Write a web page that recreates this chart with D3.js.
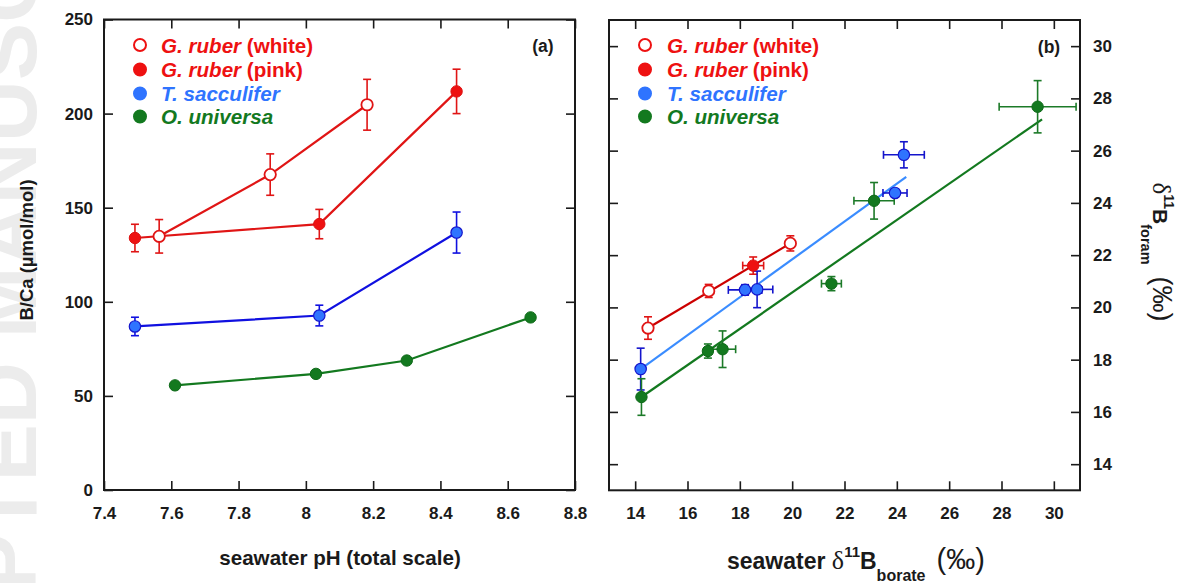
<!DOCTYPE html>
<html>
<head>
<meta charset="utf-8">
<script src="https://cdn.jsdelivr.net/npm/d3@7"></script>
<style>
body { margin: 0; background: white; }
svg { display: block; font-family: "Liberation Sans", Arial, sans-serif; }
</style>
</head>
<body>
<script>
// panel (a) : B/Ca vs pH
const phTicks = [7.4, 7.6, 7.8, 8, 8.2, 8.4, 8.6, 8.8];
const bcaTicks = [0, 50, 100, 150, 200, 250];

const phWhite = [7.564, 7.894, 8.182];
const bcaWhite = [134.8, 167.6, 204.7];
const bcaErrWhite = [8.9, 11, 13.5];

const phPink = [7.492, 8.04, 8.448];
const bcaPink = [133.9, 141.3, 211.8];
const bcaErrPink = [7.3, 7.8, 11.8];

const phSacc = [7.492, 8.04, 8.448];
const bcaSacc = [86.9, 92.7, 136.8];
const bcaErrSacc = [4.9, 5.5, 10.9];

const phUniv = [7.611, 8.03, 8.30, 8.668];
const bcaUniv = [55.6, 61.7, 68.8, 91.7];

// panel (b) : d11B foram vs d11B borate
const dTicks = [14, 16, 18, 20, 22, 24, 26, 28, 30];

const swWhite = [14.49, 16.81, 19.93];
const foWhite = [19.21, 20.63, 22.45];
const foErrWhite = [0.43, 0.25, 0.29];

const swPink = [18.51];
const foPink = [21.6];
const swErrPink = [0.4];
const foErrPink = [0.33];

const swSacc = [14.21, 18.2, 18.66, 23.93, 24.27];
const foSacc = [17.64, 20.67, 20.69, 24.38, 25.84];
const swErrSacc = [0.1, 0.64, 0.6, 0.46, 0.78];
const foErrSacc = [0.8, 0.2, 0.7, 0.15, 0.5];

const swUniv = [14.24, 16.78, 17.34, 21.5, 23.13, 29.38];
const foUniv = [16.57, 18.33, 18.4, 20.91, 24.08, 27.68];
const swErrUniv = [0.1, 0.15, 0.5, 0.38, 0.77, 1.47];
const foErrUniv = [0.7, 0.27, 0.7, 0.27, 0.7, 1.0];

// regression lines [x0, y0, x1, y1]
const fitRuber = [14.49, 19.21, 19.93, 22.45];
const fitSacc = [14.21, 17.64, 24.36, 25.0];
const fitUniv = [14.24, 16.57, 29.55, 27.2];

const legendNames = [["G. ruber", " (white)"], ["G. ruber", " (pink)"], ["T. sacculifer", ""], ["O. universa", ""]];

const rouge = "#ee1111";
const rougeFonce = "#cc0000";
const bleu = "#2f74ff";
const bleuFonce = "#1414cc";
const bleuClair = "#3a8cff";
const vert = "#13791f";
const encre = "#1a1a1a";

const largeur = 1184;
const hauteur = 583;

const svg = d3.select("body")
.append("svg")
.attr("width", largeur)
.attr("height", hauteur);

// faded watermark on the left edge
svg.append("text")
.attr("transform", "translate(36,300) rotate(-90)")
.attr("text-anchor", "middle")
.attr("font-size", 86)
.attr("font-weight", "bold")
.attr("fill", "#ececec")
.text("ACCEPTED MANUSCRIPT");

const xA = d3.scaleLinear().domain([7.4, 8.8]).range([104, 575]);
const yA = d3.scaleLinear().domain([0, 250]).range([490, 19.5]);
const xB = d3.scaleLinear().domain([13, 31]).range([609, 1080]);
const yB = d3.scaleLinear().domain([13, 31]).range([490.3, 20]);

function cadre(x, y, xTicks, yTicks, yCote)
{
    const bas = y.range()[0];
    const haut = y.range()[1];
    const gauche = x.range()[0];
    const droite = x.range()[1];

    const g = svg.append("g");

    g.append("g")
    .attr("transform", "translate(0," + bas + ")")
    .call(d3.axisBottom(x).tickValues(xTicks).tickSizeInner(-9).tickSizeOuter(0).tickPadding(17).tickFormat(d3.format("~g")));

    g.append("g")
    .attr("transform", "translate(0," + haut + ")")
    .call(d3.axisTop(x).tickValues(xTicks).tickSizeInner(-9).tickSizeOuter(0).tickFormat(""));

    if(yCote == "left")
    {
        g.append("g")
        .attr("transform", "translate(" + gauche + ",0)")
        .call(d3.axisLeft(y).tickValues(yTicks).tickSizeInner(-9).tickSizeOuter(0).tickPadding(11));
        g.append("g")
        .attr("transform", "translate(" + droite + ",0)")
        .call(d3.axisRight(y).tickValues(yTicks).tickSizeInner(-9).tickSizeOuter(0).tickFormat(""));
    }
    else
    {
        g.append("g")
        .attr("transform", "translate(" + droite + ",0)")
        .call(d3.axisRight(y).tickValues(yTicks).tickSizeInner(-9).tickSizeOuter(0).tickPadding(13));
        g.append("g")
        .attr("transform", "translate(" + gauche + ",0)")
        .call(d3.axisLeft(y).tickValues(yTicks).tickSizeInner(-9).tickSizeOuter(0).tickFormat(""));
    }

    g.selectAll(".domain").remove();
    g.selectAll(".tick line").attr("stroke", encre).attr("stroke-width", 1.6);
    g.selectAll(".tick text")
    .attr("font-family", "'Liberation Sans', Arial, sans-serif")
    .attr("font-size", 17)
    .attr("font-weight", "bold")
    .attr("fill", encre);

    g.append("rect")
    .attr("x", gauche)
    .attr("y", haut)
    .attr("width", droite - gauche)
    .attr("height", bas - haut)
    .attr("fill", "none")
    .attr("stroke", encre)
    .attr("stroke-width", 2);
}

cadre(xA, yA, phTicks, bcaTicks, "left");
cadre(xB, yB, dTicks, dTicks, "right");

function points(xs, ys)
{
    return xs.map(function(d, i) { return {x: d, y: ys[i]}; });
}

function ligne(x, y, xs, ys, couleur)
{
    svg.append("path")
    .datum(points(xs, ys))
    .attr("d", d3.line().x(function(d) { return x(d.x); }).y(function(d) { return y(d.y); }))
    .attr("fill", "none")
    .attr("stroke", couleur)
    .attr("stroke-width", 2.2);
}

function barres(x, y, xs, ys, xErr, yErr, couleur)
{
    const g = svg.append("g").attr("stroke", couleur).attr("stroke-width", 1.6);
    const cap = 4;
    xs.forEach(function(v, i)
    {
        const cx = x(v);
        const cy = y(ys[i]);
        if(yErr && yErr[i] > 0)
        {
            const y0 = y(ys[i] - yErr[i]);
            const y1 = y(ys[i] + yErr[i]);
            g.append("line").attr("x1", cx).attr("x2", cx).attr("y1", y0).attr("y2", y1);
            g.append("line").attr("x1", cx - cap).attr("x2", cx + cap).attr("y1", y0).attr("y2", y0);
            g.append("line").attr("x1", cx - cap).attr("x2", cx + cap).attr("y1", y1).attr("y2", y1);
        }
        if(xErr && xErr[i] > 0)
        {
            const x0 = x(v - xErr[i]);
            const x1 = x(v + xErr[i]);
            g.append("line").attr("x1", x0).attr("x2", x1).attr("y1", cy).attr("y2", cy);
            g.append("line").attr("x1", x0).attr("x2", x0).attr("y1", cy - cap).attr("y2", cy + cap);
            g.append("line").attr("x1", x1).attr("x2", x1).attr("y1", cy - cap).attr("y2", cy + cap);
        }
    });
}

function marqueurs(x, y, xs, ys, remplissage, contour, epaisseur)
{
    svg.append("g")
    .selectAll("circle")
    .data(points(xs, ys))
    .enter()
    .append("circle")
    .attr("cx", function(d) { return x(d.x); })
    .attr("cy", function(d) { return y(d.y); })
    .attr("r", 5.7)
    .attr("fill", remplissage)
    .attr("stroke", contour)
    .attr("stroke-width", epaisseur);
}

// panel (a)
ligne(xA, yA, phWhite, bcaWhite, "#e01515");
ligne(xA, yA, phPink, bcaPink, "#e01515");
ligne(xA, yA, phSacc, bcaSacc, "#1010e0");
ligne(xA, yA, phUniv, bcaUniv, vert);
barres(xA, yA, phWhite, bcaWhite, null, bcaErrWhite, "#e01515");
barres(xA, yA, phPink, bcaPink, null, bcaErrPink, "#e01515");
barres(xA, yA, phSacc, bcaSacc, null, bcaErrSacc, "#1010e0");
marqueurs(xA, yA, phWhite, bcaWhite, "white", "#e01515", 1.8);
marqueurs(xA, yA, phPink, bcaPink, rouge, "#dd1111", 1);
marqueurs(xA, yA, phSacc, bcaSacc, bleu, bleuFonce, 1.2);
marqueurs(xA, yA, phUniv, bcaUniv, vert, "#0f6a19", 1);

// panel (b)
ligne(xB, yB, [fitRuber[0], fitRuber[2]], [fitRuber[1], fitRuber[3]], rougeFonce);
ligne(xB, yB, [fitSacc[0], fitSacc[2]], [fitSacc[1], fitSacc[3]], bleuClair);
ligne(xB, yB, [fitUniv[0], fitUniv[2]], [fitUniv[1], fitUniv[3]], vert);
barres(xB, yB, swWhite, foWhite, null, foErrWhite, "#e01515");
barres(xB, yB, swPink, foPink, swErrPink, foErrPink, "#e01515");
barres(xB, yB, swSacc, foSacc, swErrSacc, foErrSacc, bleuFonce);
barres(xB, yB, swUniv, foUniv, swErrUniv, foErrUniv, "#1c7a28");
marqueurs(xB, yB, swWhite, foWhite, "white", "#e01515", 1.8);
marqueurs(xB, yB, swPink, foPink, rouge, "#dd1111", 1);
marqueurs(xB, yB, swSacc, foSacc, bleu, bleuFonce, 1.2);
marqueurs(xB, yB, swUniv, foUniv, vert, "#0f6a19", 1);

// legends
const legendeStyles = [
    {fill: "white", stroke: rouge, text: rouge},
    {fill: rouge, stroke: rouge, text: rouge},
    {fill: bleu, stroke: bleu, text: bleu},
    {fill: vert, stroke: vert, text: vert}
];
const legendeY = [45, 69.5, 93.5, 116.5];

function legende(xMarque, xTexte)
{
    legendNames.forEach(function(n, i)
    {
        const s = legendeStyles[i];
        svg.append("circle")
        .attr("cx", xMarque)
        .attr("cy", legendeY[i])
        .attr("r", 6)
        .attr("fill", s.fill)
        .attr("stroke", s.stroke)
        .attr("stroke-width", 2);
        const t = svg.append("text")
        .attr("x", xTexte)
        .attr("y", legendeY[i] + 7.5)
        .attr("font-size", 20.6)
        .attr("font-weight", "bold")
        .attr("fill", s.text);
        t.append("tspan").attr("font-style", "italic").text(n[0]);
        t.append("tspan").text(n[1]);
    });
}

legende(140, 161);
legende(645, 667);

svg.append("text").attr("x", 543).attr("y", 51.5).attr("text-anchor", "middle")
.attr("font-size", 17.5).attr("font-weight", "bold").attr("fill", encre).text("(a)");
svg.append("text").attr("x", 1049).attr("y", 52.5).attr("text-anchor", "middle")
.attr("font-size", 17.5).attr("font-weight", "bold").attr("fill", encre).text("(b)");

// axis titles
svg.append("text")
.attr("x", 340).attr("y", 565)
.attr("text-anchor", "middle")
.attr("font-size", 20.6)
.attr("font-weight", "bold")
.attr("fill", encre)
.text("seawater pH (total scale)");

svg.append("text")
.attr("transform", "translate(33,250) rotate(-90)")
.attr("text-anchor", "middle")
.attr("font-size", 18.5)
.attr("font-weight", "bold")
.attr("fill", encre)
.text("B/Ca (µmol/mol)");

const titreB = svg.append("text")
.attr("x", 727).attr("y", 569)
.attr("font-size", 23)
.attr("font-weight", "bold")
.attr("fill", encre);
titreB.append("tspan").text("seawater ");
titreB.append("tspan").attr("font-family", "'Liberation Serif', serif").attr("font-weight", "normal").attr("font-size", 26).text("δ");
titreB.append("tspan").attr("font-size", 15).attr("dy", -12).text("11");
titreB.append("tspan").attr("dy", 12).text("B");
titreB.append("tspan").attr("font-size", 16).attr("dy", 12).text("borate");
titreB.append("tspan").attr("font-weight", "normal").attr("font-size", 29).attr("dx", 11).attr("dy", -12).text("(‰)");

const titreD = svg.append("text")
.attr("transform", "translate(1153,252) rotate(90)")
.attr("text-anchor", "middle")
.attr("font-size", 21)
.attr("font-weight", "bold")
.attr("fill", encre);
titreD.append("tspan").attr("font-family", "'Liberation Serif', serif").attr("font-weight", "normal").attr("font-size", 25).text("δ");
titreD.append("tspan").attr("font-size", 14).attr("dy", -11).text("11");
titreD.append("tspan").attr("dy", 11).text("B");
titreD.append("tspan").attr("font-size", 14.5).attr("dy", 12).text("foram");
titreD.append("tspan").attr("font-weight", "normal").attr("font-size", 27).attr("dx", 12).attr("dy", -12).text("(‰)");
</script>
</body>
</html>
